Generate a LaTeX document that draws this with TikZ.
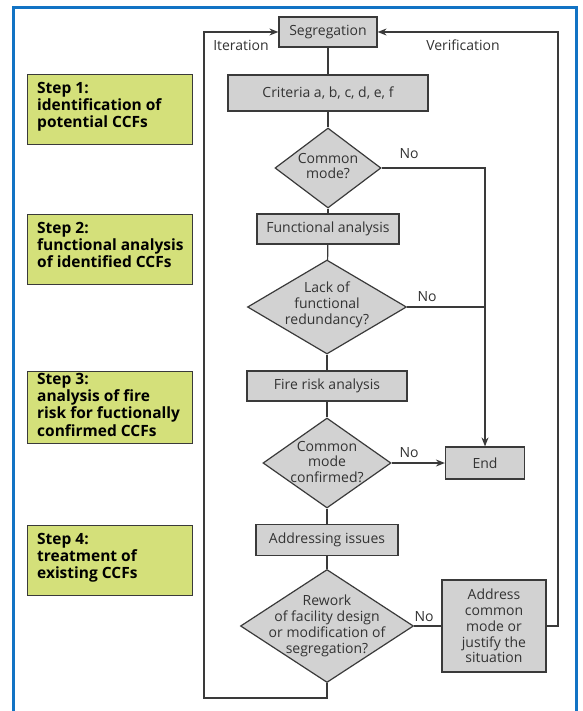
\documentclass[tikz,border=0pt]{standalone}
\usepackage{fontspec}
\setmainfont{Open Sans}
\usetikzlibrary{shapes.geometric,arrows.meta}
\definecolor{frameblue}{HTML}{1273C4}
\definecolor{stepgreen}{HTML}{D4E07A}
\definecolor{boxgrey}{HTML}{D2D2D2}
\definecolor{linegrey}{HTML}{3A3A3A}
\definecolor{txtgrey}{HTML}{333333}
\tikzset{
  procbox/.style={draw=linegrey, line width=1.2pt, fill=boxgrey, text=txtgrey,
    font=\fontsize{14}{15.8}\selectfont, inner sep=0pt, align=center},
  decbox/.style={draw=linegrey, line width=1.2pt, fill=boxgrey, shape=diamond, inner sep=0pt},
  dectext/.style={text=txtgrey, font=\fontsize{14}{15.8}\selectfont, align=center, inner sep=0pt},
  stepbox/.style={draw=linegrey, line width=1.2pt, fill=stepgreen, inner sep=0pt, anchor=north west},
  steptext/.style={anchor=north west, inner sep=0pt, text=black,
    font=\fontsize{15.5}{17.2}\selectfont\bfseries, align=left},
  conn/.style={draw=linegrey, line width=1.2pt},
  arr/.style={conn, -{Stealth[length=9pt,width=7pt]}},
  lbl/.style={text=txtgrey, font=\fontsize{14}{16}\selectfont, inner sep=0pt},
}
\begin{document}
\begin{tikzpicture}[x=1pt,y=-1pt]
\useasboundingbox (0,0) rectangle (582,711);
\fill[white] (0,0) rectangle (582,711);
% frame
\draw[frameblue, line width=3pt] (13.5,711) -- (13.5,7.5) -- (576.5,7.5) -- (576.5,711);

% step boxes
\node[stepbox, minimum width=165pt, minimum height=70pt] (s1) at (27,74) {};
\node[steptext] (s1t) at (37,82) {Step 1:\\identification of\\potential CCFs};
\node[stepbox, minimum width=165pt, minimum height=70pt] (s2) at (27,214) {};
\node[steptext] (s2t) at (37,222) {Step 2:\\functional analysis\\of identified CCFs};
\node[stepbox, minimum width=165pt, minimum height=72pt] (s3) at (27,371) {};
\node[steptext] (s3t) at (37,373) {Step 3:\\analysis of fire\\risk for fuctionally\\confirmed CCFs};
\node[stepbox, minimum width=165pt, minimum height=70pt] (s4) at (27,525) {};
\node[steptext] (s4t) at (37,533) {Step 4:\\treatment of\\existing CCFs};

% process boxes
\node[procbox, minimum width=98pt, minimum height=30pt] (seg) at (328,32) {Segregation};
\node[procbox, minimum width=200pt, minimum height=36pt] (crit) at (328,93) {Criteria a, b, c, d, e, f};
\node[decbox, minimum width=106pt, minimum height=80pt] (cm1) at (328,168) {};
\node[dectext] (cm1t) at (328,166) {Common\\mode?};
\node[procbox, minimum width=142pt, minimum height=30pt] (fa) at (328,229) {Functional analysis};
\node[decbox, minimum width=159pt, minimum height=94pt] (lack) at (327,307) {};
\node[dectext] (lackt) at (327,305) {Lack of\\functional\\redundancy?};
\node[procbox, minimum width=160pt, minimum height=30pt] (fra) at (327,386) {Fire risk analysis};
\node[decbox, minimum width=128pt, minimum height=90pt] (cm2) at (327,463) {};
\node[dectext] (cm2t) at (327,462) {Common\\mode\\confirmed?};
\node[procbox, minimum width=79pt, minimum height=32pt] (end) at (485,463) {End};
\node[procbox, minimum width=142pt, minimum height=31pt] (ai) at (327,540) {Addressing issues};
\node[decbox, minimum width=173pt, minimum height=113pt] (rew) at (327,626) {};
\node[dectext] (rewt) at (327,626) {Rework\\of facility design\\or modification of\\segregation?};
\node[procbox, minimum width=104pt, minimum height=92pt] (addr) at (494,626) {Address\\common\\mode or\\justify the\\situation};

% vertical chain
\draw[conn] (seg) -- (crit);
\draw[conn] (crit) -- (cm1);
\draw[conn] (cm1) -- (fa);
\draw[conn] (fa) -- (lack);
\draw[conn] (lack) -- (fra);
\draw[conn] (fra) -- (cm2);
\draw[conn] (cm2) -- (ai);
\draw[conn] (ai) -- (rew);

% No branches
\draw[arr] (cm1.east) -| (end.north);
\draw[conn] (lack.east) -- (end.north |- lack.east);
\draw[arr] (cm2.east) -- (end.west);
\draw[conn] (rew.east) -- (addr.west);

% loops
\coordinate (vr) at (558,626);
\draw[arr] (addr.east) -- (vr) |- (seg.east);
\coordinate (il) at (204,698);
\draw[arr] (rew.south) |- (il) |- (seg.west);

% labels
\node[lbl] (lit) at (241,45) {Iteration};
\node[lbl] (lver) at (463,45) {Verification};
\node[lbl] (no1) at (409,154) {No};
\node[lbl] (no2) at (427,297) {No};
\node[lbl] (no3) at (409,453) {No};
\node[lbl] (no4) at (424,617) {No};
\end{tikzpicture}
\end{document}
